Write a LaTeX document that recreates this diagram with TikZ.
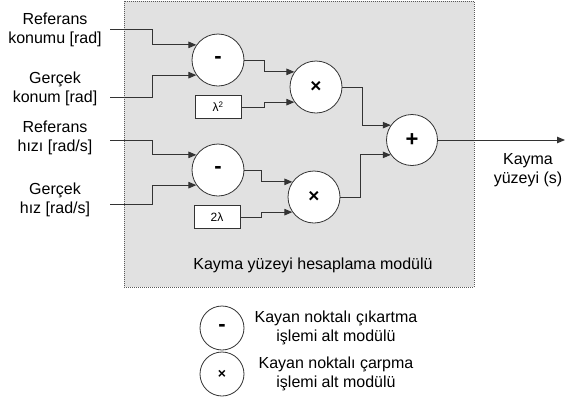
\documentclass[tikz,border=0pt]{standalone}
\usepackage{fontspec}
\setmainfont{Liberation Sans}
\usetikzlibrary{arrows.meta,calc}
\definecolor{panel}{HTML}{E1E1E1}
\definecolor{wire}{HTML}{333333}
\begin{document}
\begin{tikzpicture}[x=1pt,y=-1pt,
  txt/.style={font=\fontsize{16}{19.5}\selectfont, align=center, inner sep=0pt},
  op/.style={circle, draw=wire, line width=0.8pt, fill=white, minimum size=52pt, inner sep=0pt, font=\fontsize{22}{22}\selectfont\bfseries},
  mul/.style={op, font=\fontsize{19}{19}\selectfont\bfseries},
  legop/.style={op, minimum size=44pt},
  gain/.style={draw=wire, line width=0.8pt, fill=white, minimum width=46pt, minimum height=23pt, inner sep=0pt, font=\fontsize{12}{12}\selectfont},
  arr/.style={draw=wire, line width=0.9pt, -{Triangle[length=8pt,width=6.5pt]}}]
  \useasboundingbox (0,0) rectangle (566,405);

  % module frame
  \node[draw=gray!70!black, dash pattern=on 1pt off 1pt, line width=0.8pt, fill=panel,
        minimum width=350pt, minimum height=286pt, inner sep=0pt] (frame) at (299,144) {};
  \node[txt] (ftitle) at (313,265) {Kayma yüzeyi hesaplama modülü};

  % inputs
  \node[txt] (lab1) at (55,30) {Referans\\konumu [rad]};
  \node[txt] (lab2) at (55,89) {Gerçek\\konum [rad]};
  \node[txt] (lab3) at (55,138) {Referans\\hızı [rad/s]};
  \node[txt] (lab4) at (55,200) {Gerçek\\hız [rad/s]};
  \coordinate (in1) at (110,29);
  \coordinate (in2) at (110,97);
  \coordinate (in3) at (110,140);
  \coordinate (in4) at (110,204);

  % operators
  \node[op] (s1) at (218,60) {-};
  \node[op] (s2) at (218,170) {-};
  \node[gain] (k1) at (218,107) {λ\textsuperscript{2}};
  \node[gain] (k2) at (217,217) {2λ};
  \node[mul] (m1) at (316,87) {×};
  \node[mul] (m2) at (314,197) {×};
  \node[op, minimum size=51pt] (p) at (412,140) {+};

  % output
  \coordinate (out) at (565,140);
  \node[txt] (olab) at (528,170) {Kayma\\yüzeyi (s)};

  % wiring
  \draw[arr] (in1) -| ([xshift=-43.7pt]s1.145) -- (s1.145);
  \draw[arr] (in2) -| ([xshift=-43.7pt]s1.215) -- (s1.215);
  \draw[arr] (in3) -| ([xshift=-43.7pt]s2.145) -- (s2.145);
  \draw[arr] (in4) -| ([xshift=-43.7pt]s2.215) -- (s2.215);

  \draw[arr] (s1.east) -| ([xshift=-29.7pt]m1.145) -- (m1.145);
  \draw[arr] (k1.east) -| ([xshift=-29.7pt]m1.215) -- (m1.215);
  \draw[arr] (s2.east) -| ([xshift=-30.7pt]m2.145) -- (m2.145);
  \draw[arr] (k2.east) -| ([xshift=-30.7pt]m2.215) -- (m2.215);

  \draw[arr] (m1.east) -| ([xshift=-28pt]p.145) -- (p.145);
  \draw[arr] (m2.east) -| ([xshift=-30pt]p.215) -- (p.215);
  \draw[arr] (p.east) -- (out);

  % legend
  \node[legop] (l1) at (222,328) {-};
  \node[legop, font=\fontsize{14}{14}\selectfont\bfseries] (l2) at (222,374) {×};
  \node[txt] (t1) at (336,328) {Kayan noktalı çıkartma\\işlemi alt modülü};
  \node[txt] (t2) at (336,374) {Kayan noktalı çarpma\\işlemi alt modülü};
\end{tikzpicture}
\end{document}
